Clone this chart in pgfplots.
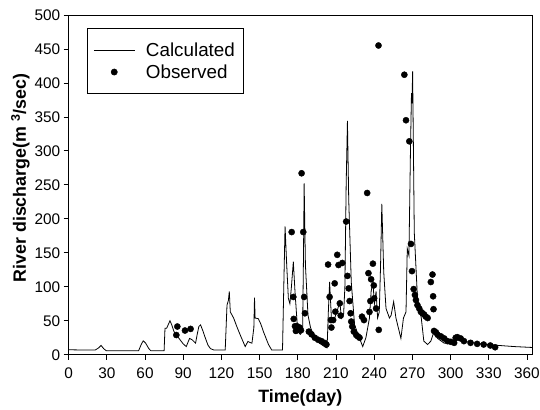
\documentclass[border=0pt]{standalone}
\usepackage{fontspec}
\setmainfont{Liberation Sans}
\usepackage{pgfplots}
\pgfplotsset{compat=1.18}
\pgfplotsset{
  calcleg/.style={legend image code/.code={\draw[##1] (0bp,0bp) -- (41bp,0bp);}},
  obsleg/.style={legend image code/.code={\draw[mark repeat=2, mark phase=2, ##1] plot coordinates {(0bp,0bp) (20.5bp,0bp) (41bp,0bp)};}},
}

% calculated discharge (day, m3/s)
\pgfplotstableread{
day q
0 7.3
10 7.0
21 7.0
23.5 10
25.5 13.7
27.5 9
29.5 6
40 6
55 6
57 15
58.6 20.5
60.5 17
63 9
64.5 6
75 6
75.7 39
77 39
79.6 50
81 44
82.8 34
86.7 24
90 16
92.4 12
95 24
97 22
99.7 17
101 30
102.3 41.5
103.6 44
105.5 35
107.5 24
109.5 14
111.4 9
114 7
123 7
124.4 73
125.5 80
126.2 93
127 63
129.6 54
132 42
134.8 29
138.7 12
140.8 19.5
142.5 18
144 17
145.5 40
146 84
146.5 54
149 53
151 45
153 34
157 15
159.5 7
168 7
169 100
170 189
171.3 132
172.6 83
173.8 75
175 100
176.5 137
177.8 93
179 60
180 34
182 30
183.8 35
184.5 150
185 252
186 132
188 58.5
190 40
193.4 24
197 17
201 12
203 10
204 63
205 107
206.4 54
209 54
211 65
213 78
214.3 54
216 60
217 100
218 250
219 344
220 229
222 107
224.6 44
228.5 24
231 12
233.5 25
236.3 54
237.6 93
239 107
240.2 75
241.5 93
242.7 54
244 63
245 130
246 222
247.5 122
249.3 68
252 54
253.3 58
255.3 78
257.1 54
261 24
263 54
265 63
266 156
267.3 146
268.5 300
269.3 385
269.7 370
270.2 417
271.5 180
274 83
277 54
279 20
282 15
284.5 20
287 34
289.8 24
295 17
303 19.5
306 22
309 27
312 19.5
320 17
331 14.6
350 12
364 10.7
}\calc

% observed discharge (day, m3/s)
\pgfplotstableread{
day q
84.6 29
85.4 41.5
91.4 35.6
95.8 38
175.2 180.5
176.5 85
176.8 52.7
177.8 42
178.5 35
179.3 42
180 37
181.5 40
182.5 36
183 267
184.3 180.5
185 85
185.6 61
188.7 34
190.8 30
193.4 25
196 22
198.6 20
201 17.5
202.5 15
203.8 132.7
205 85
206 51
206.4 40
207.8 51
209 105
209.5 63.4
211 147
212 132
213 75.6
213.7 57.6
215 135
218 196
219 116
220 97.6
220.7 79
221.5 61
222 48.8
222.8 41.5
224 34
225.9 29
227.2 27
228.5 25
230.4 56
232 51
234.5 238
235.5 120
236.3 63
237 79
237.6 111
239 134
239.7 102
240 83
241.5 68
243.4 455
243.6 36.6
263.7 412
265 345
267.6 314
268.9 163
269.7 123
271 96.6
272 88
272.8 80.5
274 73
275.4 68
276.7 63
278 61
279.3 59
280.6 56
282 54
284.5 107
285.8 118
286.3 86
286.6 67
287 35
288.5 33
289.8 29.5
292.4 27
295 24
297.6 20
300.2 19
302.8 17.5
304 24.9
305.3 25.9
307.9 24
310.5 20
315.7 17.5
320.9 16
326 15
331.2 13.6
335 11
}\obs

\begin{document}
\begin{tikzpicture}
\useasboundingbox (-69bp,-55.3bp) rectangle (474bp,356.7bp);
\begin{axis}[
  at={(0,0)}, anchor=south west,
  scale only axis,
  width=466bp, height=341.7bp,
  xmin=0, xmax=364, ymin=0, ymax=500,
  xtick={0,30,...,360},
  ytick={0,50,...,500},
  tick align=outside,
  tick pos=left,
  major tick length=5bp,
  axis line style={line width=0.7bp},
  every tick/.style={line width=0.7bp, black},
  /pgf/number format/assume math mode=true,
  ticklabel style={font=\fontsize{15.5}{17}\selectfont},
  xticklabel style={yshift=-5bp},
  label style={font=\fontsize{18}{20}\selectfont\bfseries},
  xlabel={Time(day)},
  ylabel={River discharge(m \textsuperscript{3}/sec)},
  xlabel style={at={(axis description cs:0.5,-0.127)}, anchor=center},
  ylabel style={at={(axis description cs:-0.104,0.52)}, anchor=center},
  legend style={
    at={(axis description cs:0.0401,0.961)}, anchor=north west,
    draw=black, line width=0.6bp,
    font=\fontsize{19}{22}\selectfont,
    inner xsep=6bp, inner ysep=12bp,
    row sep=3bp, column sep=9bp,
    nodes={inner sep=2bp},
  },
  legend cell align=left,
]
\addplot[black, line width=0.8bp, calcleg]
  table[x=day, y=q] {\calc};
\addlegendentry{Calculated\hspace{4bp}}
\addplot[only marks, mark=*, mark size=3.1bp, black, obsleg]
  table[x=day, y=q] {\obs};
\addlegendentry{Observed}
\end{axis}
\end{tikzpicture}
\end{document}
